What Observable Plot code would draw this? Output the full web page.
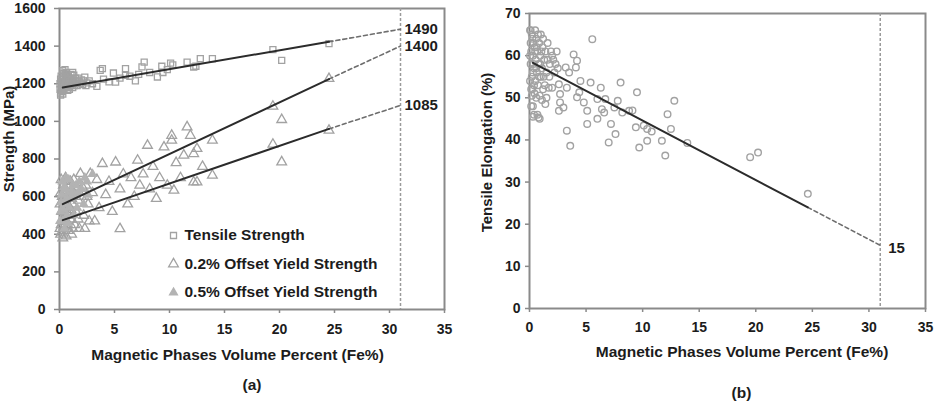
<!DOCTYPE html>
<html>
<head>
<meta charset="utf-8">
<script src="https://cdn.jsdelivr.net/npm/d3@7"></script>
<script src="https://cdn.jsdelivr.net/npm/@observablehq/plot@0.6"></script>
<style>
  body { margin: 0; background: #fff; }
  #wrap { position: relative; width: 935px; height: 404px; overflow: hidden; }
  #panelA, #panelB { position: absolute; top: 0; }
  #panelA { left: 0; }
  #panelB { left: 470px; }
</style>
</head>
<body>
<div id="wrap"><div id="panelA"></div><div id="panelB"></div></div>
<script>
// ---- shared axis values ----
const xTicks = [0, 5, 10, 15, 20, 25, 30, 35];
const strengthTicks = [0, 200, 400, 600, 800, 1000, 1200, 1400, 1600];
const elongationTicks = [0, 10, 20, 30, 40, 50, 60, 70];
const projectedFe = 31; // Fe% where the trend lines are extrapolated to

// ---- (a) strength vs magnetic phase content: [Fe%, MPa] ----
const tensileStrength = [
  [0.1,1150],[0.15,1175],[0.2,1190],[0.2,1210],[0.25,1160],[0.3,1230],[0.35,1195],[0.4,1170],
  [0.45,1215],[0.5,1275],[0.55,1250],[0.6,1185],[0.6,1225],[0.7,1200],[0.75,1165],[0.8,1240],
  [0.9,1210],[0.95,1190],[1.0,1230],[1.1,1205],[1.2,1180],[1.25,1220],[1.3,1245],[1.4,1200],
  [1.5,1215],[1.6,1190],[1.7,1230],[1.8,1210],[2.0,1220],[2.1,1195],[2.3,1235],[2.5,1205],
  [2.7,1215],[3.0,1200],[0.1,1140],[0.3,1145],[0.15,1240],[0.4,1255],[0.5,1200],[0.8,1180],
  [0.05,1170],[0.05,1200],[0.1,1225],[0.2,1165],[0.25,1185],[0.35,1235],[0.4,1205],[0.45,1180],
  [0.55,1215],[0.65,1195],[0.7,1235],[0.85,1220],[0.9,1170],[1.0,1195],[1.05,1250],[1.15,1215],
  [1.35,1190],[1.45,1230],[1.55,1205],[1.65,1215],[1.9,1200],[2.2,1215],[2.4,1190],[0.3,1270],
  [0.6,1260],[1.2,1260],
  [3.4,1186],[3.7,1271],[3.9,1280],[4.0,1225],[4.5,1210],[4.9,1257],[5.1,1209],[5.5,1230],
  [6.0,1245],[6.0,1280],[6.4,1240],[6.9,1215],[7.2,1250],[7.5,1290],[7.7,1315],[8.2,1260],
  [8.9,1236],[9.3,1293],[9.4,1260],[9.8,1275],[10.1,1310],[10.3,1300],[11.6,1315],[12.2,1289],
  [12.4,1293],[12.8,1333],[13.9,1333],[19.4,1381],[20.2,1324],[24.5,1413]
];
const yield02 = [
  [0.1,400],[0.15,450],[0.2,520],[0.25,600],[0.3,380],[0.35,470],[0.4,560],[0.45,640],
  [0.5,420],[0.55,500],[0.6,590],[0.7,660],[0.75,450],[0.8,540],[0.9,610],[1.0,480],
  [1.0,680],[1.1,400],[1.2,560],[1.3,620],[1.4,450],[1.5,520],[1.6,650],[1.7,580],
  [1.8,430],[1.9,722],[2.0,600],[2.2,500],[2.4,660],[2.6,560],[2.8,722],[3.0,620],
  [0.05,430],[0.05,560],[0.1,620],[0.15,690],[0.2,410],[0.3,530],[0.35,660],[0.4,440],
  [0.5,610],[0.55,700],[0.6,390],[0.65,470],[0.7,560],[0.8,420],[0.85,650],[0.9,500],
  [1.1,590],[1.2,430],[1.3,690],[1.5,600],[1.7,480],[2.1,650],[2.3,430],[2.5,600],
  [2.7,470],[1.05,530],[0.25,480],[0.45,580],
  [3.2,470],[3.4,690],[3.6,540],[3.9,775],[4.2,610],[4.5,680],[4.8,520],[5.1,783],
  [5.5,429],[5.5,640],[5.8,720],[6.2,560],[6.5,700],[6.8,600],[7.1,793],[7.3,660],
  [7.6,720],[8.0,872],[8.2,640],[8.5,760],[8.8,590],[9.1,700],[9.5,863],[9.8,660],
  [10.2,925],[10.2,899],[10.4,633],[10.6,780],[11.0,700],[11.3,820],[11.6,970],[11.9,925],
  [12.2,828],[12.2,677],[12.5,855],[12.5,677],[13.0,760],[13.9,899],[13.9,713],
  [19.4,1080],[20.2,1009],[19.4,878],[20.2,784],[24.5,1227],[24.5,952]
];
const yield05 = [
  [0.1,520],[0.2,610],[0.3,470],[0.4,650],[0.5,560],[0.6,700],[0.7,500],[0.8,620],
  [0.9,540],[1.0,590],[1.2,660],[1.4,610],[1.6,540],[1.8,680],[2.0,640],[2.3,700],
  [2.6,610],[3.0,720],[0.05,470],[0.15,570],[0.25,680],[0.35,530],[0.45,430],[0.55,640],
  [0.65,590],[0.75,460],[0.85,690],[1.1,630],[1.3,500],[1.5,660],[1.7,620],[2.2,560],[2.5,680]
];
// trend lines: [start, end of measured range, extrapolated value at projectedFe]
const tensileFit = [[0.3,1180],[24.5,1423],[projectedFe,1490]];
const yieldUpperFit = [[0.3,560],[24.5,1225],[projectedFe,1400]];
const yieldLowerFit = [[0.3,475],[24.5,960],[projectedFe,1085]];
const legendLabels = ["Tensile Strength", "0.2% Offset Yield Strength", "0.5% Offset Yield Strength"];

// ---- (b) tensile elongation: [Fe%, %] ----
const elongation = [
  [0.05,66],[0.1,63],[0.1,58],[0.15,61],[0.2,65],[0.2,55],[0.25,52],[0.3,60],[0.3,48],
  [0.35,63],[0.4,57],[0.4,46],[0.45,62],[0.5,54],[0.5,66],[0.55,59],[0.6,50],[0.6,64],
  [0.65,56],[0.7,61],[0.7,46],[0.75,53],[0.8,58],[0.8,45.3],[0.85,63],[0.9,50.5],[0.95,60],
  [1.0,55],[1.0,65],[1.1,57],[1.15,62],[1.2,52],[1.3,59],[1.4,48.5],[1.4,61],[1.5,56],
  [1.6,63],[1.7,52.4],[1.8,58],[1.9,61],[2.0,52.4],[2.1,59],[2.2,56],[2.4,61],[2.5,57],
  [2.6,53.2],[2.7,50.9],[2.7,48.9],[3.0,47.7],[2.6,46.9],[0.3,45.5],[0.9,45],[1.1,49.5],
  [1.5,50],[0.2,50.5],
  [0.05,60],[0.05,54],[0.1,66],[0.15,52],[0.25,64],[0.3,56],[0.35,58],[0.45,51],[0.5,61],
  [0.6,57],[0.65,62],[0.75,65],[0.85,55],[0.95,58],[1.05,61],[1.2,64],[1.25,55],[1.35,53],
  [1.6,59],[1.75,55],[2.0,60],[2.3,58],[0.4,53],[0.15,48],
  [3.2,57.2],[3.5,56],[3.9,60.3],[4.1,57.2],[4.2,58.8],[4.5,54],[5.4,53.6],[5.55,63.9],
  [6.3,52.4],[8.05,53.6],[9.5,51.3],[12.8,49.3],[3.3,52.4],[4.4,51.3],[4.2,50.1],[6.0,49.7],
  [4.8,48.9],[6.7,49.7],[7.8,49.3],[5.1,46.9],[6.4,47.3],[6.6,46.5],[7.5,47.7],[8.2,46.5],
  [8.8,46.9],[9.1,47],[6.0,45.0],[5.1,43.8],[7.2,43.8],[9.4,43],[10.1,43.4],[10.4,42.6],
  [10.8,42],[12.2,46.1],[12.5,42.6],[7.6,41.4],[3.3,42.2],[3.6,38.6],[7.0,39.4],[9.7,38.2],
  [10.4,39.8],[11.7,39.8],[12.0,36.3],[13.95,39.3],[19.5,35.9],[20.2,37.0],[24.6,27.2]
];
const elongationFit = [[0.3,58.3],[24.6,24.0],[projectedFe,15]];

// ---- styling ----
const FONT = "'Liberation Sans', Arial, Helvetica, sans-serif";
const INK = "#1c1c1c";
const AXIS = "#8a8a8a";
const MARK = "#a2a2a2";
const LINE = "#2b2b2b";
const fx = d => d[0], fy = d => d[1];
const bold = {fontWeight: "bold", fill: INK, lineAnchor: "middle"};

function trend(fit) {
  return [
    Plot.line(fit.slice(1), {x: fx, y: fy, stroke: "#6e6e6e", strokeWidth: 1.6, strokeDasharray: "4,3"}),
    Plot.line(fit.slice(0, 2), {x: fx, y: fy, stroke: LINE, strokeWidth: 2})
  ];
}
function endLabel(fit, dx, dy) {
  return Plot.text([fit[2]], {x: fx, y: fy, text: d => String(d[1]), textAnchor: "start",
    dx, dy, fontSize: 15, ...bold});
}
function frameAndAxes(yTicks, yTickSize, yTickPad, xTickPad) {
  return [
    Plot.frame({stroke: AXIS, strokeWidth: 2}),
    Plot.axisX({ticks: xTicks, tickSize: 4, tickPadding: xTickPad, label: null, tickFormat: d => String(d),
      stroke: AXIS, strokeWidth: 1.5, fill: INK, fontSize: 14, fontWeight: "bold"}),
    Plot.axisY({ticks: yTicks, tickSize: yTickSize, tickPadding: yTickPad, label: null, tickFormat: d => String(d),
      stroke: AXIS, strokeWidth: 1.5, fill: INK, fontSize: 14, fontWeight: "bold"}),
    Plot.ruleX([projectedFe], {stroke: "#9a9a9a", strokeWidth: 1.5, strokeDasharray: "3,2"})
  ];
}

// ---- panel (a) ----
const legendMarks = legendLabels.flatMap((label, i) => {
  const dy = 227 + i * 28.5;
  const sym = i === 0
    ? {symbol: "square", r: 3.4, stroke: MARK, strokeWidth: 1.3, fill: "none"}
    : i === 1
      ? {symbol: "triangle", r: 3.6, stroke: MARK, strokeWidth: 1.3, fill: "none"}
      : {symbol: "triangle", r: 2.8, stroke: "#b3b3b3", fill: "#b3b3b3"};
  return [
    Plot.dot([label], {frameAnchor: "top-left", dx: 114, dy, ...sym}),
    Plot.text([label], {frameAnchor: "top-left", dx: 125, dy, text: d => d, textAnchor: "start",
      fontSize: 15.5, ...bold})
  ];
});

const panelA = Plot.plot({
  width: 470, height: 404,
  marginLeft: 59, marginRight: 26, marginTop: 8, marginBottom: 95,
  x: {domain: [0, 35]},
  y: {domain: [0, 1600]},
  style: {fontFamily: FONT, background: "transparent", color: INK, overflow: "visible"},
  marks: [
    ...frameAndAxes(strengthTicks, 5, 9, 11),
    Plot.dot(tensileStrength, {x: fx, y: fy, symbol: "square", r: 3.4, stroke: MARK, strokeWidth: 1.3, fill: "none"}),
    Plot.dot(yield02, {x: fx, y: fy, symbol: "triangle", r: 3.6, stroke: MARK, strokeWidth: 1.3, fill: "none"}),
    Plot.dot(yield05, {x: fx, y: fy, symbol: "triangle", r: 2.8, stroke: "#b3b3b3", fill: "#b3b3b3"}),
    ...trend(tensileFit), ...trend(yieldUpperFit), ...trend(yieldLowerFit),
    endLabel(tensileFit, 4, 0), endLabel(yieldUpperFit, 4, 0), endLabel(yieldLowerFit, 4, 0),
    ...legendMarks,
    Plot.text(["Magnetic Phases Volume Percent (Fe%)"], {frameAnchor: "bottom", dx: -14.5, dy: 46,
      textAnchor: "middle", fontSize: 15.5, ...bold}),
    Plot.text(["(a)"], {frameAnchor: "bottom", dx: 0, dy: 76, textAnchor: "middle", fontSize: 15.5, ...bold}),
    Plot.text(["Strength (MPa)"], {frameAnchor: "left", rotate: -90, dx: -50, dy: -20,
      textAnchor: "middle", fontSize: 15, ...bold})
  ]
});
document.getElementById("panelA").append(panelA);

// ---- panel (b) ----
const panelB = Plot.plot({
  width: 465, height: 404,
  marginLeft: 59, marginRight: 10, marginTop: 13, marginBottom: 96,
  x: {domain: [0, 35]},
  y: {domain: [0, 70]},
  style: {fontFamily: FONT, background: "transparent", color: INK, overflow: "visible"},
  marks: [
    ...frameAndAxes(elongationTicks, 4, 5, 10),
    Plot.dot(elongation, {x: fx, y: fy, r: 3.3, stroke: MARK, strokeWidth: 1.4, fill: "none"}),
    ...trend(elongationFit),
    endLabel(elongationFit, 8, 3),
    Plot.text(["Magnetic Phases Volume Percent (Fe%)"], {frameAnchor: "bottom", dx: 14.5, dy: 44,
      textAnchor: "middle", fontSize: 15.5, ...bold}),
    Plot.text(["(b)"], {frameAnchor: "bottom", dx: 14, dy: 85, textAnchor: "middle", fontSize: 15.5, ...bold}),
    Plot.text(["Tensile Elongation (%)"], {frameAnchor: "left", rotate: -90, dx: -42, dy: -8.5,
      textAnchor: "middle", fontSize: 15, ...bold})
  ]
});
document.getElementById("panelB").append(panelB);
</script>
</body>
</html>
